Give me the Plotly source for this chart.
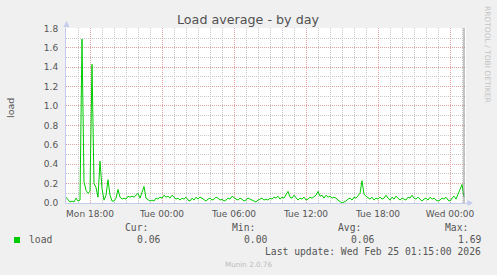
import plotly.graph_objects as go
import pandas as pd

# ---------------- data ----------------
series_name = "load"
start_time = "2026-02-23 16:00"
step = "10min"
load = [
    0.06, 0.04, 0.01, 0.02, 0.01, 0.05, 0.02, 0.03, 1.69, 0.22,
    0.13, 0.10, 0.12, 1.43, 0.20, 0.16, 0.06, 0.43, 0.15, 0.03,
    0.08, 0.24, 0.08, 0.02, 0.02, 0.05, 0.14, 0.06, 0.04, 0.05,
    0.04, 0.07, 0.06, 0.07, 0.06, 0.08, 0.10, 0.05, 0.12, 0.17,
    0.05, 0.03, 0.02, 0.03, 0.02, 0.05, 0.04, 0.06, 0.05, 0.08,
    0.06, 0.07, 0.05, 0.08, 0.06, 0.04, 0.05, 0.03, 0.05, 0.04,
    0.06, 0.03, 0.02, 0.05, 0.03, 0.06, 0.04, 0.06, 0.05, 0.03,
    0.02, 0.04, 0.05, 0.03, 0.04, 0.06, 0.05, 0.03, 0.04, 0.02,
    0.03, 0.05, 0.04, 0.07, 0.05, 0.04, 0.03, 0.05, 0.04, 0.02,
    0.03, 0.05, 0.04, 0.03, 0.02, 0.01, 0.03, 0.04, 0.05, 0.03,
    0.04, 0.03, 0.05, 0.04, 0.06, 0.05, 0.07, 0.04, 0.06, 0.05,
    0.08, 0.12, 0.06, 0.05, 0.08, 0.06, 0.03, 0.05, 0.04, 0.06,
    0.03, 0.04, 0.06, 0.05, 0.07, 0.08, 0.12, 0.07, 0.08, 0.05,
    0.08, 0.06, 0.07, 0.05, 0.06, 0.05, 0.03, 0.01, 0.00, 0.01,
    0.02, 0.04, 0.05, 0.03, 0.06, 0.05, 0.08, 0.10, 0.23, 0.09,
    0.07, 0.05, 0.04, 0.06, 0.03, 0.05, 0.04, 0.06, 0.04, 0.05,
    0.08, 0.05, 0.03, 0.06, 0.04, 0.07, 0.05, 0.03, 0.05, 0.04,
    0.03, 0.06, 0.05, 0.08, 0.05, 0.04, 0.06, 0.04, 0.02, 0.04,
    0.05, 0.03, 0.06, 0.04, 0.05, 0.03, 0.02, 0.03, 0.05, 0.04,
    0.06, 0.03, 0.02, 0.05, 0.07, 0.04, 0.10, 0.14, 0.19, 0.06,
]
x_range = ["2026-02-23 16:00", "2026-02-25 01:20"]
first_major_tick = "2026-02-23 18:00"
now_rule = "2026-02-25 01:10"
y_max = 1.804

title_text = "Load average - by day"
y_title = "load"
stat_labels = ["Cur:", "Min:", "Avg:", "Max:"]
stat_values = ["0.06", "0.00", "0.06", "1.69"]
last_update = "Last update: Wed Feb 25 01:15:00 2026"
footer = "Munin 2.0.76"
watermark = "RRDTOOL / TOBI OETIKER"

times = pd.date_range(start_time, periods=len(load), freq=step)

# ---------------- layout helpers (pixel -> paper) ----------------
W_FIG, H_FIG = 497, 275
L, T, PW, PH = 66, 28, 400, 175


def px(x):
    return (x - L) / PW


def py(y):
    return (T + PH - y) / PH


LINE_GREEN = "#00CC00"
MAJOR = "#E2A0A0"
MINOR = "#C8C8C8"
AXIS = "#C4CCEE"
TXT = "#555555"
SANS = "DejaVu Sans"
MONO = "DejaVu Sans Mono"
DASH = "1px,1px"

fig = go.Figure()
fig.add_trace(go.Scatter(
    x=times, y=load, mode="lines", name=series_name,
    line=dict(color=LINE_GREEN, width=1), showlegend=False, hoverinfo="skip",
))

fig.update_layout(
    width=W_FIG, height=H_FIG,
    margin=dict(l=L, r=W_FIG - L - PW, t=T, b=H_FIG - T - PH, pad=0),
    paper_bgcolor="#F0F0F0", plot_bgcolor="#FFFFFF",
    showlegend=False,
    xaxis=dict(
        type="date", range=x_range,
        tickmode="linear", tick0=first_major_tick, dtick=6 * 3600 * 1000,
        tickformat="%a %H:%M",
        showgrid=True, gridcolor=MAJOR, griddash=DASH, gridwidth=1,
        minor=dict(dtick=3600 * 1000, tick0=first_major_tick, showgrid=True,
                   gridcolor=MINOR, griddash=DASH, gridwidth=1),
        showline=True, linecolor=AXIS, linewidth=1, zeroline=False,
        ticks="", tickfont=dict(family=SANS, size=9, color=TXT),
        ticklabelstandoff=2,
    ),
    yaxis=dict(
        range=[0, y_max], tickmode="linear", tick0=0, dtick=0.2, tickformat=".1f",
        showgrid=True, gridcolor=MAJOR, griddash=DASH, gridwidth=1,
        minor=dict(dtick=0.1, showgrid=True, gridcolor=MINOR, griddash=DASH, gridwidth=1),
        showline=True, linecolor=AXIS, linewidth=1, zeroline=False,
        ticks="", tickfont=dict(family=SANS, size=9, color=TXT),
        ticklabelstandoff=5,
    ),
)

shapes = [
    # vertical rule at "now"
    dict(type="line", xref="x", yref="paper", x0=now_rule, x1=now_rule, y0=0, y1=1,
         line=dict(color="#8A8A8A", width=1)),
    # top arrow on y axis
    dict(type="path", xref="paper", yref="paper",
         path=f"M {px(63.5)} {py(27)} L {px(66.5)} {py(21)} L {px(69.5)} {py(27)} Z",
         fillcolor=AXIS, line=dict(width=0)),
    # right arrow on x axis
    dict(type="line", xref="paper", yref="paper", x0=1, x1=px(468), y0=0, y1=0,
         line=dict(color=AXIS, width=1)),
    dict(type="path", xref="paper", yref="paper",
         path=f"M {px(467.5)} {py(200)} L {px(473)} {py(203)} L {px(467.5)} {py(206)} Z",
         fillcolor=AXIS, line=dict(width=0)),
    # legend swatch
    dict(type="rect", xref="paper", yref="paper",
         x0=px(14), x1=px(20), y0=py(243), y1=py(237),
         fillcolor=LINE_GREEN, line=dict(width=0)),
]
fig.update_layout(shapes=shapes)


def ann(text, x, y, size, color, family=SANS, xanchor="center", angle=0):
    fig.add_annotation(text=text, x=px(x), y=py(y), xref="paper", yref="paper",
                       showarrow=False, xanchor=xanchor, yanchor="middle",
                       textangle=angle, font=dict(family=family, size=size, color=color))


ann(title_text, 248, 19, 12.7, "#505050")
ann(y_title, 10, 108, 9.5, TXT, angle=-90)
ann(watermark, 488, 54, 7.5, "#C4C4C4", angle=90)

stat_right_px = [150, 257, 363, 470]
value_right_px = [162, 269, 376, 483]
for lab, xr in zip(stat_labels, stat_right_px):
    ann(lab, xr, 227.5, 9.7, TXT, family=MONO, xanchor="right")
for val, xr in zip(stat_values, value_right_px):
    ann(val, xr, 239.5, 9.7, TXT, family=MONO, xanchor="right")
ann(series_name, 26.5, 239.5, 9.7, TXT, family=MONO, xanchor="left")
ann(last_update, 483, 251.8, 9.7, TXT, family=MONO, xanchor="right")
ann(footer, 248, 264, 7.2, "#BBBBBB")

fig.write_html("out.html")
